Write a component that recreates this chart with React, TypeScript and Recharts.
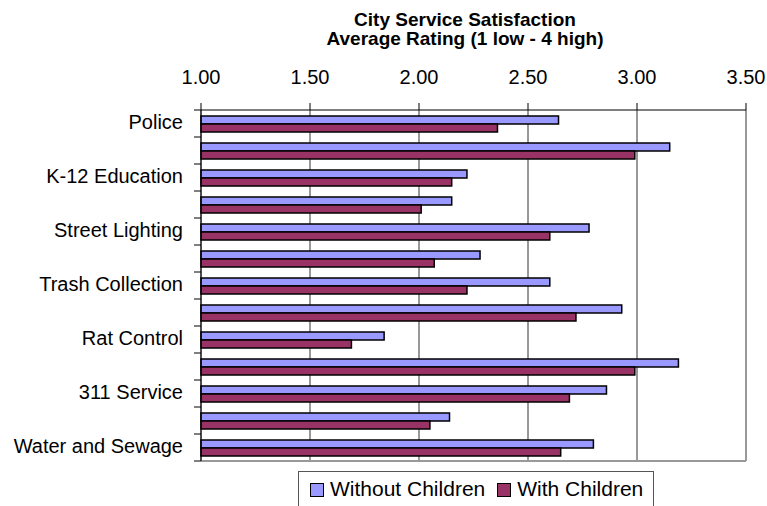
import React from "react";
import {
  Bar,
  BarChart,
  CartesianGrid,
  ReferenceLine,
  XAxis,
  YAxis,
} from "recharts";

// tick labels of the category axis (only every other row is labelled in the source)
const categories = [
  "Police",
  "",
  "K-12 Education",
  "",
  "Street Lighting",
  "",
  "Trash Collection",
  "",
  "Rat Control",
  "",
  "311 Service",
  "",
  "Water and Sewage",
];

const withoutChildren = [2.64, 3.15, 2.22, 2.15, 2.78, 2.28, 2.6, 2.93, 1.84, 3.19, 2.86, 2.14, 2.8];
const withChildren = [2.36, 2.99, 2.15, 2.01, 2.6, 2.07, 2.22, 2.72, 1.69, 2.99, 2.69, 2.05, 2.65];

const xTicks = [1, 1.5, 2, 2.5, 3, 3.5];
const seriesNames = ["Without Children", "With Children"];
const seriesColors = ["#9999FF", "#993366"];

const W = 767;
const H = 506;
const PLOT_LEFT = 201;
const PLOT_TOP = 110;
const PLOT_RIGHT = 746;
const PLOT_BOTTOM = 461;
const FONT = '"Liberation Sans", Arial, sans-serif';

const data = categories.map((label, i) => ({
  id: i,
  label,
  without: withoutChildren[i],
  with: withChildren[i],
}));

function CategoryTick(props: any) {
  const { y, payload, index } = props;
  const band = (PLOT_BOTTOM - PLOT_TOP) / categories.length;
  const half = payload?.offset || band / 2;
  const label = categories[payload.value] ?? "";
  return (
    <g>
      <line x1={PLOT_LEFT - 7} x2={PLOT_LEFT} y1={y - half} y2={y - half} stroke="#000" />
      {index === categories.length - 1 && (
        <line x1={PLOT_LEFT - 7} x2={PLOT_LEFT} y1={y + half} y2={y + half} stroke="#000" />
      )}
      {label && (
        <text
          x={PLOT_LEFT - 18}
          y={y}
          dy="0.27em"
          textAnchor="end"
          fontSize={20}
          fontFamily={FONT}
          fill="#000"
        >
          {label}
        </text>
      )}
    </g>
  );
}

export default function App() {
  return (
    <div
      style={{
        position: "absolute",
        left: 0,
        top: 0,
        width: W,
        height: H,
        overflow: "hidden",
        background: "#fff",
        fontFamily: FONT,
      }}
    >
      <div
        style={{
          position: "absolute",
          left: 0,
          top: 10,
          width: 930,
          textAlign: "center",
          fontSize: 19,
          fontWeight: "bold",
          lineHeight: "19px",
          color: "#000",
        }}
      >
        City Service Satisfaction
        <br />
        Average Rating (1 low - 4 high)
      </div>

      <BarChart
        width={W}
        height={H}
        data={data}
        layout="vertical"
        barGap={0}
        barSize={8}
        margin={{ top: PLOT_TOP - 60, right: W - PLOT_RIGHT, bottom: H - PLOT_BOTTOM, left: 6 }}
      >
        <CartesianGrid horizontal={false} stroke="#333" />
        <XAxis
          type="number"
          orientation="top"
          domain={[1, 3.5]}
          ticks={xTicks}
          height={60}
          tickSize={7}
          tickMargin={19}
          tickFormatter={(v: number) => v.toFixed(2)}
          tick={{ fontSize: 20, fill: "#000", fontFamily: FONT }}
          axisLine={{ stroke: "#000" }}
          tickLine={{ stroke: "#000" }}
        />
        <YAxis
          type="category"
          dataKey="id"
          width={PLOT_LEFT - 6}
          interval={0}
          tick={<CategoryTick />}
          tickLine={false}
          axisLine={{ stroke: "#000" }}
        />
        <ReferenceLine x={3.5} stroke="#999" strokeWidth={2} />
        <ReferenceLine y={categories.length - 1} position="end" stroke="#999" strokeWidth={2} />
        <Bar
          dataKey="without"
          name={seriesNames[0]}
          fill={seriesColors[0]}
          stroke="#000"
          strokeWidth={1.5}
          isAnimationActive={false}
        />
        <Bar
          dataKey="with"
          name={seriesNames[1]}
          fill={seriesColors[1]}
          stroke="#000"
          strokeWidth={1.5}
          isAnimationActive={false}
        />
      </BarChart>

      <div
        style={{
          position: "absolute",
          left: 298,
          top: 471,
          width: 356,
          height: 44,
          border: "1.5px solid #555",
          boxSizing: "border-box",
          display: "flex",
          alignItems: "flex-start",
          paddingTop: 5,
          paddingLeft: 11,
          fontSize: 21,
          lineHeight: "24px",
          color: "#000",
        }}
      >
        {seriesNames.map((name, i) => (
          <div key={name} style={{ display: "flex", alignItems: "center", marginRight: 12 }}>
            <span
              style={{
                display: "inline-block",
                width: 12,
                height: 12,
                background: seriesColors[i],
                border: "1px solid #000",
                marginRight: 6,
                marginTop: 2,
              }}
            />
            <span style={{ whiteSpace: "nowrap" }}>{name}</span>
          </div>
        ))}
      </div>
    </div>
  );
}
